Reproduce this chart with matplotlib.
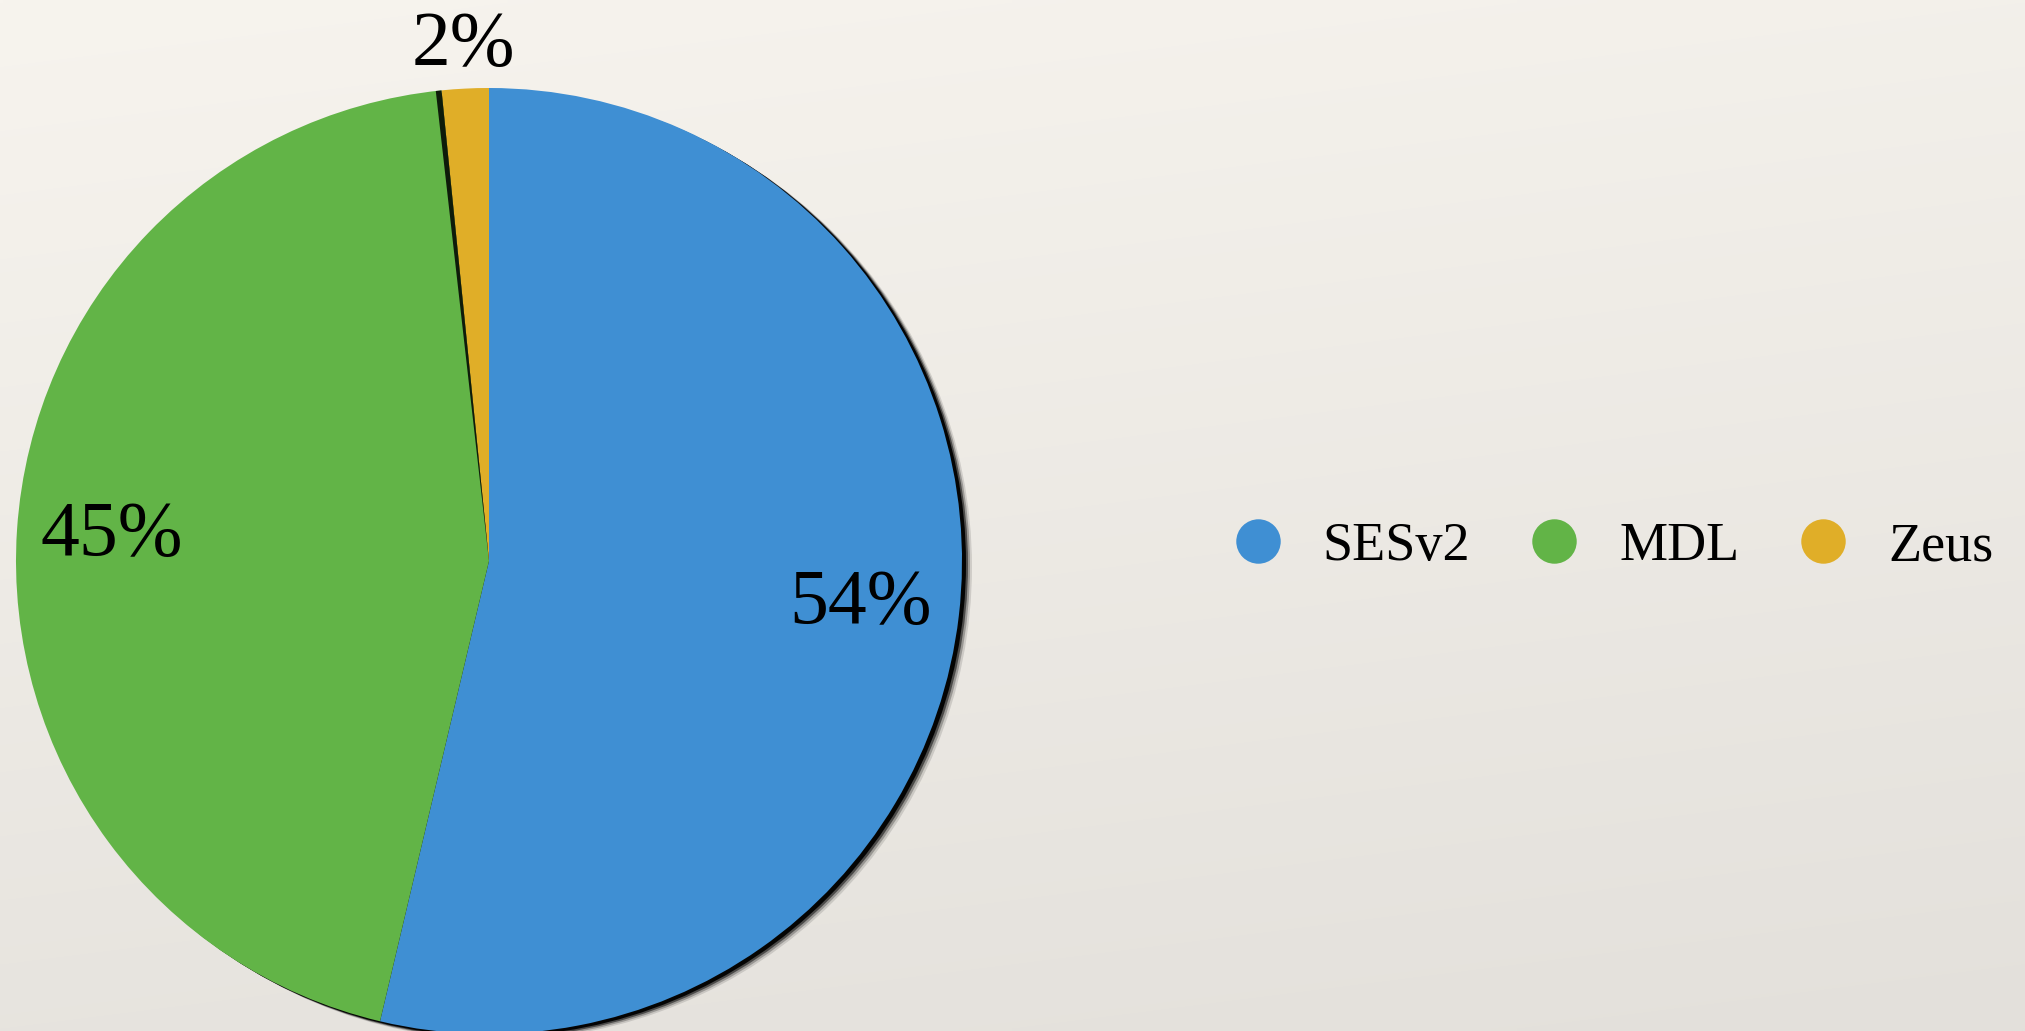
import numpy as np
import matplotlib
matplotlib.use("Agg")
import matplotlib.pyplot as plt
from matplotlib.patches import Circle, Wedge
from matplotlib.lines import Line2D

# data
labels = ["SESv2", "MDL", "Zeus"]
shares = [53.7, 44.7, 1.6]
pct_text = ["54%", "45%", "2%"]
colors = ["#3f8fd3", "#62b447", "#e0ae28"]
label_dist = [0.79, 0.80, 1.09]

W, H = 2025, 1031
R = 473.0          # pie radius in px
CX, CY = 489, 561  # pie centre in px (from top-left)

plt.rcParams["font.family"] = ["Liberation Serif", "DejaVu Serif"]

fig = plt.figure(figsize=(W / 100, H / 100), dpi=100)

# paper-like background gradient
bg = fig.add_axes([0, 0, 1, 1], zorder=0)
yy, xx = np.mgrid[0:1:200j, 0:1:400j]
t = 0.8 * yy + 0.2 * xx
top = np.array([247, 244, 238]) / 255
bot = np.array([227, 224, 219]) / 255
img = top[None, None, :] * (1 - t[..., None]) + bot[None, None, :] * t[..., None]
bg.imshow(img, aspect="auto", extent=(0, 1, 0, 1), interpolation="bilinear")
bg.axis("off")

ax = fig.add_axes([0, 0, 1, 1], zorder=1)
ax.patch.set_alpha(0)
ax.axis("off")

# drop shadow (soft, to the lower right)
for k, a in zip([10, 8, 6, 4], [0.12, 0.25, 0.5, 0.95]):
    ax.add_patch(Circle((k / R, -k * 0.6 / R), 1.0, color="black", alpha=a,
                        lw=0, zorder=1))

wedges, _ = ax.pie(shares, colors=colors, startangle=90, counterclock=False,
                   radius=1.0, center=(0, 0), frame=True,
                   wedgeprops=dict(linewidth=0, zorder=2))
ax.set_xlim(-CX / R, (W - CX) / R)
ax.set_ylim(-(H - CY) / R, CY / R)
ax.set_aspect("auto")
ax.axis("off")

# thin shadow cast by the Zeus slice onto MDL
edge = wedges[2].theta2
ax.add_patch(Wedge((0, 0), 1.0, edge, edge + 0.7, color="black", lw=0,
                   alpha=0.85, zorder=3))

for w, txt, d in zip(wedges, pct_text, label_dist):
    ang = np.deg2rad((w.theta1 + w.theta2) / 2)
    ax.text(d * np.cos(ang), d * np.sin(ang), txt, ha="center", va="center",
            fontsize=56, color="black", zorder=4)

handles = [Line2D([], [], ls="none", marker="o", markersize=32,
                  markerfacecolor=c, markeredgewidth=0) for c in colors]
fig.legend(handles, labels, loc="center left",
           bbox_to_anchor=(1236 / W, 1 - 547 / H), ncol=3, frameon=False,
           fontsize=39, handlelength=0.8, handletextpad=0.8,
           columnspacing=1.15, borderpad=0, borderaxespad=0)

fig.savefig("out.png", dpi=100)
